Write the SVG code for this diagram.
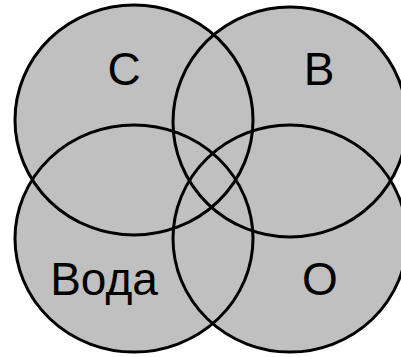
<svg xmlns="http://www.w3.org/2000/svg" width="401" height="357" viewBox="0 0 401 357">
<style>
.fill{fill:#c0c0c0;stroke:none}
.ring{fill:none;stroke:#000;stroke-width:3}
.lbl{font-family:"Liberation Sans",Arial,sans-serif;font-size:46px;fill:#000;text-anchor:middle}
</style>
<rect width="401" height="357" fill="#fff"/>
<g id="fills">
<ellipse class="fill" cx="134" cy="120" rx="119" ry="115"/>
<ellipse class="fill" cx="290" cy="122" rx="117" ry="115"/>
<ellipse class="fill" cx="134" cy="238.5" rx="119" ry="113.5"/>
<ellipse class="fill" cx="290" cy="238.5" rx="117" ry="113.5"/>
</g>
<g id="node-c">
<ellipse class="ring" cx="134" cy="120" rx="119" ry="115"/>
<text class="lbl" x="124" y="85">С</text>
</g>
<g id="node-b">
<ellipse class="ring" cx="290" cy="122" rx="117" ry="115"/>
<text class="lbl" x="319" y="85">В</text>
</g>
<g id="node-voda">
<ellipse class="ring" cx="134" cy="238.5" rx="119" ry="113.5"/>
<text class="lbl" x="104" y="295">Вода</text>
</g>
<g id="node-o">
<ellipse class="ring" cx="290" cy="238.5" rx="117" ry="113.5"/>
<text class="lbl" x="320" y="295">О</text>
</g>
<g id="connectors"></g>
</svg>
